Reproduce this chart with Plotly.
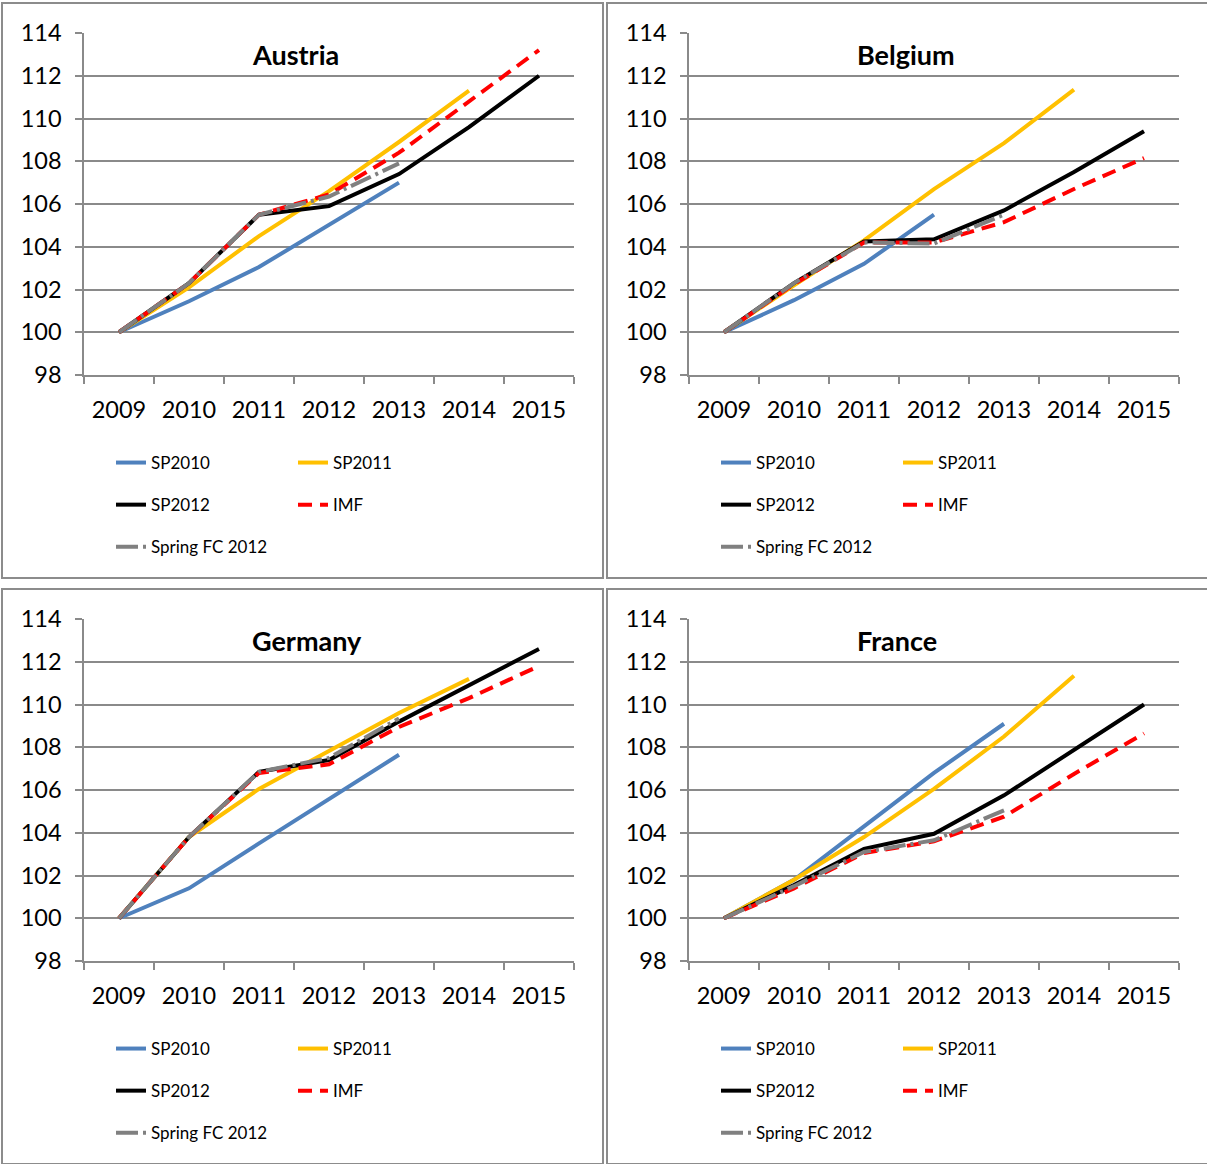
import plotly.graph_objects as go

W, H = 1207, 1164
years = ["2009", "2010", "2011", "2012", "2013", "2014", "2015"]

countries = ["Austria", "Belgium", "Germany", "France"]

# Series values (index 100 = 2009)
austria_sp2010 = [100, 101.45, 103.05, 105.0, 107.0]
austria_sp2011 = [100, 102.1, 104.5, 106.6, 108.9, 111.3]
austria_sp2012 = [100, 102.3, 105.5, 105.9, 107.4, 109.6, 112.0]
austria_imf = [100, 102.3, 105.5, 106.45, 108.4, 110.8, 113.2]
austria_spring = [100, 102.3, 105.5, 106.35, 107.9]

belgium_sp2010 = [100, 101.5, 103.2, 105.5]
belgium_sp2011 = [100, 102.2, 104.3, 106.7, 108.85, 111.35]
belgium_sp2012 = [100, 102.3, 104.25, 104.35, 105.7, 107.5, 109.4]
belgium_imf = [100, 102.25, 104.2, 104.2, 105.15, 106.7, 108.15]
belgium_spring = [100, 102.3, 104.2, 104.15, 105.5]

germany_sp2010 = [100, 101.4, 103.5, 105.55, 107.65]
germany_sp2011 = [100, 103.8, 106.05, 107.85, 109.6, 111.2]
germany_sp2012 = [100, 103.8, 106.85, 107.4, 109.2, 110.9, 112.6]
germany_imf = [100, 103.8, 106.8, 107.2, 108.95, 110.3, 111.8]
germany_spring = [100, 103.8, 106.85, 107.5, 109.35]

france_sp2010 = [100, 101.8, 104.3, 106.8, 109.1]
france_sp2011 = [100, 101.8, 103.8, 106.05, 108.5, 111.35]
france_sp2012 = [100, 101.55, 103.25, 103.95, 105.75, 107.9, 110.0]
france_imf = [100, 101.4, 103.05, 103.6, 104.75, 106.75, 108.65]
france_spring = [100, 101.5, 103.1, 103.65, 105.05]

series_names = ["SP2010", "SP2011", "SP2012", "IMF", "Spring FC 2012"]
y_ticks = [98, 100, 102, 104, 106, 108, 110, 112, 114]

data = {
    "Austria": [austria_sp2010, austria_sp2011, austria_sp2012, austria_imf, austria_spring],
    "Belgium": [belgium_sp2010, belgium_sp2011, belgium_sp2012, belgium_imf, belgium_spring],
    "Germany": [germany_sp2010, germany_sp2011, germany_sp2012, germany_imf, germany_spring],
    "France": [france_sp2010, france_sp2011, france_sp2012, france_imf, france_spring],
}

styles = [
    dict(color="#4F81BD", width=4, dash="solid"),
    dict(color="#FFC000", width=4, dash="solid"),
    dict(color="#000000", width=4, dash="solid"),
    dict(color="#FF0000", width=4, dash="14px,8px"),
    dict(color="#808080", width=4, dash="22px,5px,3px,5px"),
]
order = [0, 1, 2, 3, 4]

FONT = "Lato, 'Open Sans', sans-serif"
GRID = "#8a8a8a"

offsets = [(0, 0), (605, 0), (0, 586), (605, 586)]

fig = go.Figure()
layout = dict(
    width=W, height=H,
    margin=dict(l=0, r=0, t=0, b=0, pad=0, autoexpand=False),
    paper_bgcolor="white", plot_bgcolor="white",
    font=dict(family=FONT, size=23, color="black"),
    showlegend=True,
)
shapes = []
annotations = []

def px_x(x):
    return x / W

def px_y(y):
    return 1 - y / H

for i, country in enumerate(countries):
    ox, oy = offsets[i]
    n = i + 1
    xa = "x" if n == 1 else f"x{n}"
    ya = "y" if n == 1 else f"y{n}"
    xk = "xaxis" if n == 1 else f"xaxis{n}"
    yk = "yaxis" if n == 1 else f"yaxis{n}"
    lg1 = "legend" if i == 0 else f"legend{2 * i + 1}"
    lg2 = f"legend{2 * i + 2}"
    for j in order:
        vals = data[country][j]
        st = styles[j]
        fig.add_trace(go.Scatter(
            x=years[:len(vals)], y=vals, mode="lines", name=series_names[j],
            xaxis=xa, yaxis=ya,
            line=dict(color=st["color"], width=st["width"], dash=st["dash"]),
            legend=lg1 if j in (0, 2, 4) else lg2,
            legendgroup=f"{country}{j}",
            hoverinfo="skip",
        ))
    layout[xk] = dict(
        domain=[px_x(ox + 84), px_x(ox + 574)],
        anchor=ya, type="category", categoryorder="array", categoryarray=years,
        range=[-0.5, 6.5], showgrid=False, showline=True, linecolor=GRID, linewidth=1.5,
        ticks="outside", tickson="boundaries", ticklen=7, tickcolor=GRID, tickwidth=1.5,
        tickfont=dict(size=23.5, family=FONT), ticklabelstandoff=13, fixedrange=True,
        automargin=False,
    )
    layout[yk] = dict(
        domain=[px_y(oy + 375), px_y(oy + 33)],
        anchor=xa, range=[98, 114], tickvals=y_ticks, showgrid=True,
        gridcolor=GRID, gridwidth=1.5, showline=True, linecolor=GRID, linewidth=1.5,
        ticks="outside", ticklen=7, tickcolor=GRID, tickwidth=1.5, zeroline=False,
        tickfont=dict(size=23.5, family=FONT), ticklabelstandoff=9, fixedrange=True,
        automargin=False,
    )
    shapes.append(dict(type="rect", xref="paper", yref="paper",
                       x0=px_x(ox + 2), x1=px_x(ox + 603),
                       y0=px_y(oy + 578), y1=px_y(oy + 3),
                       line=dict(color="#8c8c8c", width=2), layer="below"))
    annotations.append(dict(text=f"<b>{country}</b>", xref="paper", yref="paper",
                            x=px_x(ox + 250), y=px_y(oy + 54), xanchor="left", yanchor="middle",
                            showarrow=False, font=dict(size=27, family=FONT, color="black")))
    for k, (lg, lx) in enumerate([(lg1, 111), (lg2, 293)]):
        layout[lg] = dict(
            x=px_x(ox + lx), y=px_y(oy + 445), xanchor="left", yanchor="top",
            xref="paper", yref="paper",
            orientation="v", traceorder="grouped", tracegroupgap=17,
            font=dict(size=17, family=FONT, color="black"),
            bgcolor="rgba(0,0,0,0)", borderwidth=0, itemclick=False, itemdoubleclick=False,
        )

layout["shapes"] = shapes
layout["annotations"] = annotations
fig.update_layout(**layout)
fig.write_html(
    "out.html",
    config={"displayModeBar": False},
    post_script="document.body.style.margin='0';document.body.style.padding='0';"
                "document.documentElement.style.overflow='hidden';",
)
